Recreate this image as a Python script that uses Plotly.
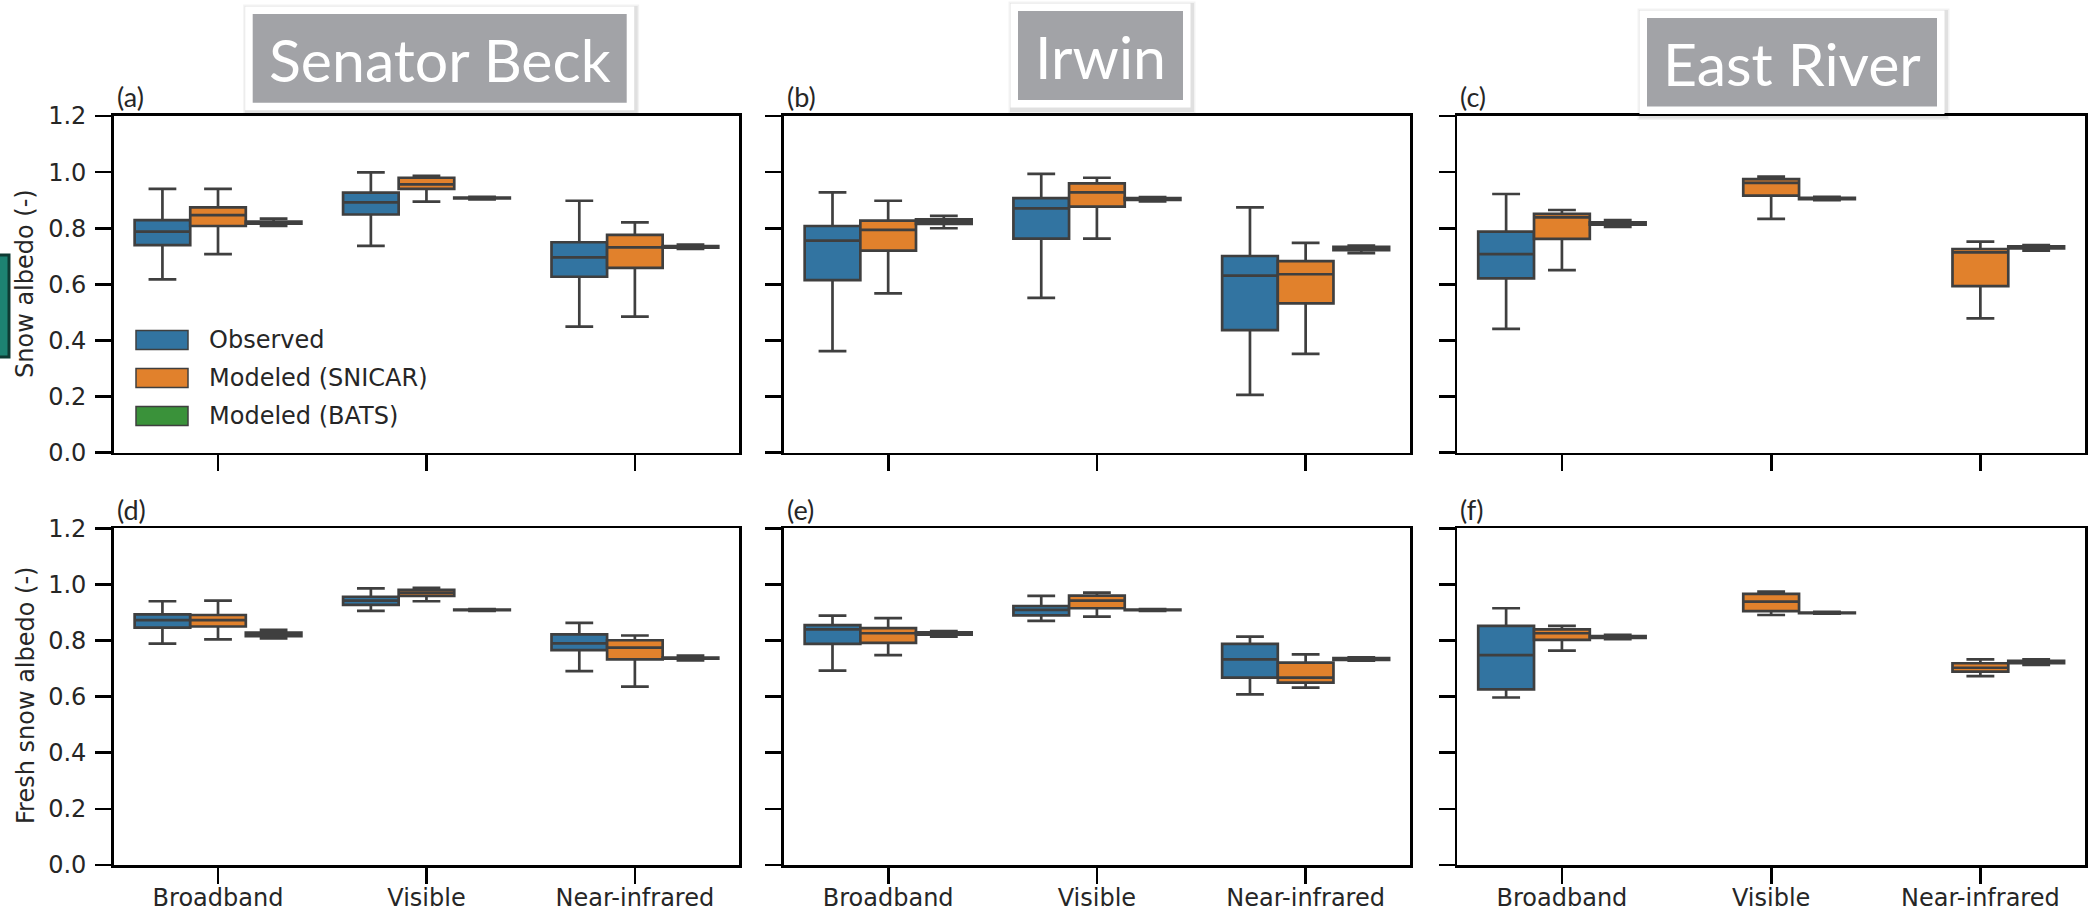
import plotly.graph_objects as go

W, H = 2093, 915

categories = ["Broadband", "Visible", "Near-infrared"]
series_names = ["Observed", "Modeled (SNICAR)", "Modeled (BATS)"]
series_colors = ["#3274a1", "#e1812c", "#3a923a"]
site_names = ["Senator Beck", "Irwin", "East River"]
panel_tags = ["(a)", "(b)", "(c)", "(d)", "(e)", "(f)"]
y_titles = ["Snow albedo (-)", "Fresh snow albedo (-)"]
y_ticks = [0.0, 0.2, 0.4, 0.6, 0.8, 1.0, 1.2]

# each entry per category: [lower whisker, q1, median, q3, upper whisker]; None = no data
sb_snow_obs = [[0.618, 0.740, 0.788, 0.829, 0.940], [0.737, 0.849, 0.892, 0.927, 0.999], [0.449, 0.627, 0.696, 0.750, 0.898]]
sb_snow_snicar = [[0.708, 0.808, 0.847, 0.874, 0.940], [0.895, 0.940, 0.956, 0.980, 0.987], [0.485, 0.659, 0.732, 0.776, 0.821]]
sb_snow_bats = [[0.808, 0.816, 0.820, 0.824, 0.834], [0.903, 0.906, 0.908, 0.909, 0.912], [0.726, 0.731, 0.733, 0.736, 0.742]]

ir_snow_obs = [[0.362, 0.615, 0.756, 0.808, 0.928], [0.552, 0.763, 0.871, 0.907, 0.994], [0.206, 0.437, 0.631, 0.701, 0.874]]
ir_snow_snicar = [[0.568, 0.720, 0.794, 0.827, 0.898], [0.763, 0.877, 0.928, 0.960, 0.980], [0.352, 0.532, 0.636, 0.683, 0.748]]
ir_snow_bats = [[0.800, 0.815, 0.823, 0.832, 0.844], [0.896, 0.901, 0.904, 0.907, 0.911], [0.711, 0.722, 0.731, 0.734, 0.738]]

er_snow_obs = [[0.441, 0.621, 0.708, 0.788, 0.922], None, None]
er_snow_snicar = [[0.651, 0.762, 0.839, 0.851, 0.865], [0.833, 0.916, 0.962, 0.975, 0.984], [0.479, 0.594, 0.714, 0.726, 0.752]]
er_snow_bats = [[0.805, 0.813, 0.817, 0.821, 0.829], [0.900, 0.904, 0.906, 0.908, 0.912], [0.720, 0.728, 0.732, 0.735, 0.740]]

sb_fresh_obs = [[0.789, 0.846, 0.873, 0.893, 0.940], [0.906, 0.927, 0.942, 0.956, 0.986], [0.691, 0.766, 0.790, 0.822, 0.863]]
sb_fresh_snicar = [[0.804, 0.850, 0.873, 0.891, 0.942], [0.940, 0.959, 0.971, 0.981, 0.988], [0.636, 0.733, 0.775, 0.801, 0.818]]
sb_fresh_bats = [[0.808, 0.816, 0.823, 0.828, 0.838], [0.906, 0.908, 0.909, 0.910, 0.912], [0.729, 0.735, 0.737, 0.739, 0.746]]

ir_fresh_obs = [[0.693, 0.788, 0.840, 0.855, 0.889], [0.870, 0.890, 0.909, 0.923, 0.959], [0.608, 0.668, 0.733, 0.788, 0.814]]
ir_fresh_snicar = [[0.748, 0.792, 0.826, 0.844, 0.880], [0.885, 0.915, 0.942, 0.960, 0.971], [0.632, 0.650, 0.668, 0.721, 0.751]]
ir_fresh_bats = [[0.814, 0.821, 0.825, 0.829, 0.834], [0.906, 0.908, 0.909, 0.910, 0.912], [0.728, 0.731, 0.734, 0.737, 0.740]]

er_fresh_obs = [[0.597, 0.626, 0.748, 0.852, 0.915], None, None]
er_fresh_snicar = [[0.764, 0.802, 0.826, 0.840, 0.852], [0.891, 0.905, 0.939, 0.966, 0.974], [0.673, 0.689, 0.703, 0.719, 0.733]]
er_fresh_bats = [[0.805, 0.809, 0.812, 0.816, 0.820], [0.896, 0.898, 0.899, 0.900, 0.902], [0.713, 0.719, 0.723, 0.728, 0.733]]

panels = [
    [sb_snow_obs, sb_snow_snicar, sb_snow_bats],
    [ir_snow_obs, ir_snow_snicar, ir_snow_bats],
    [er_snow_obs, er_snow_snicar, er_snow_bats],
    [sb_fresh_obs, sb_fresh_snicar, sb_fresh_bats],
    [ir_fresh_obs, ir_fresh_snicar, ir_fresh_bats],
    [er_fresh_obs, er_fresh_snicar, er_fresh_bats],
]

# ---- layout geometry (pixels) ----
col_px = [(113.8, 739.1), (783.8, 1410.0), (1457.3, 2085.0)]
row_px = [(116.0, 452.7), (528.3, 865.0)]

def px(x):
    return x / W

def py(y):
    return 1 - y / H

EDGE = "#3f3f3f"
TEXT = "#262626"
BOXW = 0.8 / 3

fig = go.Figure()
layout_axes = {}
for p in range(6):
    r, c = divmod(p, 3)
    idx = p + 1
    xa = "x" if idx == 1 else f"x{idx}"
    ya = "y" if idx == 1 else f"y{idx}"
    for s in range(3):
        stats = panels[p][s]
        xs, lo, q1, me, q3, hi = [], [], [], [], [], []
        for k, st in enumerate(stats):
            if st is None:
                continue
            xs.append(k + (s - 1) * BOXW)
            lo.append(st[0]); q1.append(st[1]); me.append(st[2]); q3.append(st[3]); hi.append(st[4])
        fig.add_trace(go.Box(
            x=xs, lowerfence=lo, q1=q1, median=me, q3=q3, upperfence=hi,
            width=BOXW, whiskerwidth=0.5, boxpoints=False,
            fillcolor=series_colors[s], line=dict(color=EDGE, width=2.7),
            name=series_names[s], showlegend=False, hoverinfo="skip",
            xaxis=xa, yaxis=ya,
        ))
    common = dict(showline=True, linecolor="black", linewidth=2.7, mirror=True,
                  ticks="outside", ticklen=16, tickwidth=2.7, tickcolor="black",
                  showgrid=False, zeroline=False, automargin=False,
                  tickfont=dict(family="DejaVu Sans", size=24, color=TEXT))
    xk = "xaxis" if idx == 1 else f"xaxis{idx}"
    yk = "yaxis" if idx == 1 else f"yaxis{idx}"
    layout_axes[xk] = dict(common, domain=[px(col_px[c][0]), px(col_px[c][1])],
                           range=[-0.5, 2.5], tickmode="array", tickvals=[0, 1, 2],
                           ticktext=categories, showticklabels=(r == 1), anchor=ya,
                           ticklabelstandoff=-7)
    layout_axes[yk] = dict(common, domain=[py(row_px[r][1]), py(row_px[r][0])],
                           range=[0, 1.2], tickmode="array", tickvals=y_ticks,
                           tickformat=".1f", showticklabels=(c == 0), anchor=xa,
                           ticklabelstandoff=4)

shapes = []
annotations = []

# panel tags
for p in range(6):
    r, c = divmod(p, 3)
    annotations.append(dict(text=panel_tags[p], x=px(col_px[c][0] + 1), y=py(row_px[r][0] - 19),
                            xref="paper", yref="paper", xanchor="left", yanchor="middle",
                            showarrow=False, font=dict(family="Lato", size=27, color=TEXT)))

# y-axis titles
annotations.append(dict(text=y_titles[0], x=px(25), y=py(284), xref="paper", yref="paper",
                        textangle=-90, showarrow=False, xanchor="center", yanchor="middle",
                        font=dict(family="DejaVu Sans", size=24, color=TEXT)))
annotations.append(dict(text=y_titles[1], x=px(26), y=py(696), xref="paper", yref="paper",
                        textangle=-90, showarrow=False, xanchor="center", yanchor="middle",
                        font=dict(family="DejaVu Sans", size=24, color=TEXT)))

# legend (drawn)
leg_y = [340, 378, 416]
for s in range(3):
    shapes.append(dict(type="rect", xref="paper", yref="paper",
                       x0=px(136), x1=px(188), y0=py(leg_y[s] - 9.5), y1=py(leg_y[s] + 9.5),
                       fillcolor=series_colors[s], line=dict(color=EDGE, width=1.5)))
    annotations.append(dict(text=series_names[s], x=px(207), y=py(leg_y[s]), xref="paper", yref="paper",
                            xanchor="left", yanchor="middle", showarrow=False,
                            font=dict(family="DejaVu Sans", size=24, color=TEXT)))

# site title boxes
title_boxes = [(252.7, 626.7, 14.0, 102.7), (1018.0, 1183.0, 11.0, 100.0), (1647.0, 1937.0, 18.0, 106.5)]
for t, (x0, x1, y0, y1) in enumerate(title_boxes):
    m = 7.5
    for off, col in [(4, "rgba(0,0,0,0.05)"), (2.5, "rgba(0,0,0,0.07)")]:
        shapes.append(dict(type="rect", xref="paper", yref="paper", layer="above",
                           x0=px(x0 - m - off + 2), x1=px(x1 + m + off + 1), y0=py(y0 - m - off + 2), y1=py(y1 + m + off + 2),
                           fillcolor=col, line=dict(width=0)))
    shapes.append(dict(type="rect", xref="paper", yref="paper", layer="above",
                       x0=px(x0 - m), x1=px(x1 + m), y0=py(y0 - m), y1=py(y1 + m),
                       fillcolor="white", line=dict(width=0)))
    shapes.append(dict(type="rect", xref="paper", yref="paper", layer="above",
                       x0=px(x0), x1=px(x1), y0=py(y0), y1=py(y1),
                       fillcolor="#a2a3a7", line=dict(width=0)))
    annotations.append(dict(text=site_names[t], x=px((x0 + x1) / 2), y=py((y0 + y1) / 2 + 1),
                            xref="paper", yref="paper", xanchor="center", yanchor="middle",
                            showarrow=False, font=dict(family="Lato", size=59, color="white")))

# teal edge artifact at far left
shapes.append(dict(type="rect", xref="paper", yref="paper",
                   x0=px(-6), x1=px(9), y0=py(357), y1=py(255),
                   fillcolor="#1d8272", line=dict(color="#0e3a33", width=3)))

fig.update_layout(
    template="none",
    width=W, height=H,
    margin=dict(l=0, r=0, t=0, b=0, pad=0, autoexpand=False),
    paper_bgcolor="white", plot_bgcolor="white",
    boxmode="overlay", showlegend=False,
    shapes=shapes, annotations=annotations,
    **layout_axes,
)

fig.write_html("out.html",
               config={"displayModeBar": False, "staticPlot": True},
               post_script="document.body.style.margin='0';document.body.style.overflow='hidden';")
